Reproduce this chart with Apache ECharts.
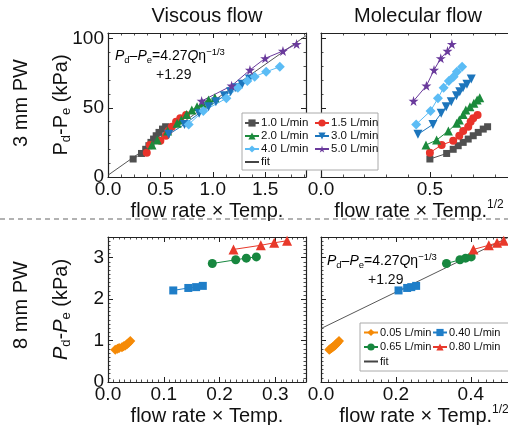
<!DOCTYPE html>
<html><head><meta charset="utf-8">
<script src="https://cdn.jsdelivr.net/npm/echarts@6/dist/echarts.min.js"></script>
<style>html,body{margin:0;padding:0;background:#fff}#c{width:508px;height:425px}</style>
</head><body><div id="c"></div>
<script>
// ---------------- data ----------------
// Top row (3 mm PW): P_d-P_e (kPa) vs flow rate x Temp. (viscous) and flow rate x Temp.^1/2 (molecular)
const topNames = ['1.0 L/min', '1.5 L/min', '2.0 L/min', '3.0 L/min', '4.0 L/min', '5.0 L/min'];
const dp_10 = [13.0, 17.0, 20.0, 22.6, 25.0, 27.4, 29.8, 32.2, 34.6, 36.3];
const visc_10 = [0.24, 0.32, 0.36, 0.39, 0.41, 0.435, 0.46, 0.487, 0.52, 0.55];
const mol_10 = [0.500, 0.577, 0.607, 0.630, 0.653, 0.676, 0.699, 0.722, 0.745, 0.765];

const dp_15 = [17.6, 23.1, 26.2, 29.8, 33.2, 36.3, 39.9, 42.4, 44.8];
const visc_15 = [0.37, 0.40, 0.50, 0.553, 0.576, 0.608, 0.65, 0.69, 0.745];
const mol_15 = [0.500, 0.554, 0.607, 0.635, 0.653, 0.676, 0.687, 0.699, 0.719];

const dp_20 = [23.1, 26.7, 33.2, 38.8, 41.2, 45.2, 48.4, 50.8, 53.2, 55.6, 57.3];
const visc_20 = [0.42, 0.47, 0.57, 0.66, 0.70, 0.75, 0.80, 0.85, 0.90, 0.96, 1.02];
const mol_20 = [0.482, 0.531, 0.585, 0.623, 0.635, 0.653, 0.665, 0.684, 0.702, 0.717, 0.729];

const dp_30 = [30.8, 38.0, 46.0, 50.8, 54.4, 58.7, 61.6, 64.5, 66.9, 70.8];
const visc_30 = [0.58, 0.73, 0.87, 0.96, 1.03, 1.11, 1.17, 1.22, 1.28, 1.35];
const mol_30 = [0.445, 0.514, 0.552, 0.575, 0.598, 0.622, 0.637, 0.652, 0.670, 0.690];

const dp_40 = [38.0, 47.7, 56.8, 64.5, 69.3, 72.4, 76.0, 79.6];
const visc_40 = [0.77, 0.91, 1.13, 1.24, 1.33, 1.40, 1.51, 1.64];
const mol_40 = [0.437, 0.503, 0.537, 0.563, 0.587, 0.609, 0.624, 0.648];

const dp_50 = [54.9, 65.9, 77.3, 85.7, 91.0, 96.0];
const visc_50 = [0.894, 1.18, 1.355, 1.50, 1.67, 1.80];
const mol_50 = [0.425, 0.484, 0.519, 0.550, 0.581, 0.601];

const fitTopX = [0, 1.9];
const fitTopY = [1.29, 102.6];

// Bottom row (8 mm PW)
const botNames = ['0.05 L/min', '0.40 L/min', '0.65 L/min', '0.80 L/min'];
const dp_005 = [0.78, 0.80, 0.82, 0.84, 0.86, 0.88, 0.91, 0.95, 0.99];
const visc_005 = [0.013, 0.017, 0.020, 0.025, 0.028, 0.031, 0.034, 0.037, 0.040];
const mol_005 = [0.022, 0.025, 0.028, 0.031, 0.034, 0.037, 0.040, 0.044, 0.048];

const dp_040 = [2.21, 2.27, 2.29, 2.32];
const visc_040 = [0.117, 0.144, 0.158, 0.170];
const mol_040 = [0.207, 0.230, 0.241, 0.254];

const dp_065 = [2.86, 2.95, 2.99, 3.02];
const visc_065 = [0.187, 0.229, 0.248, 0.266];
const mol_065 = [0.335, 0.371, 0.386, 0.401];

const dp_080 = [3.20, 3.30, 3.36, 3.41];
const visc_080 = [0.225, 0.274, 0.298, 0.321];
const mol_080 = [0.407, 0.448, 0.470, 0.488];

const fitBotX = [0, 0.55];
const fitBotY = [1.29, 3.71];

// ---------------- styling ----------------
const FONT = '"Liberation Sans", Arial, sans-serif';
const AX = '#222';
const STAR = 'path://M50,0 L61,35 L98,35 L68,57 L79,91 L50,70 L21,91 L32,57 L2,35 L39,35 Z';
const CLEAR = 'rgba(0,0,0,0)';

const topStyle = [
  {color: '#505050', symbol: 'rect', size: 7},
  {color: '#e8332a', symbol: 'circle', size: 8},
  {color: '#1b8a3c', symbol: 'triangle', size: 9},
  {color: '#1c75bc', symbol: 'triangle', size: 9, rotate: 180},
  {color: '#5bbcf5', symbol: 'diamond', size: 10},
  {color: '#6a3a9c', symbol: STAR, size: 10}
];
const botStyle = [
  {color: '#f58a07', symbol: 'diamond', size: 10},
  {color: '#1f7ec8', symbol: 'rect', size: 8},
  {color: '#17873f', symbol: 'circle', size: 9},
  {color: '#e8392b', symbol: 'triangle', size: 10}
];

function pairs(xs, ys) { return xs.map((x, i) => [x, ys[i]]); }
function mk(name, xs, ys, g, st) {
  return {
    type: 'line', name, xAxisIndex: 2 * g, yAxisIndex: 2 * g,
    data: pairs(xs, ys), symbol: st.symbol, symbolSize: st.size, symbolRotate: st.rotate || 0,
    itemStyle: {color: st.color}, lineStyle: {color: st.color, width: 1}, animation: false
  };
}
function fit(xs, ys, g) {
  return {type: 'line', name: 'fit', xAxisIndex: 2 * g, yAxisIndex: 2 * g, data: pairs(xs, ys),
    symbol: 'circle', showSymbol: false, lineStyle: {color: '#444', width: 0.9},
    itemStyle: {color: CLEAR, borderColor: CLEAR, borderWidth: 0}, animation: false, z: 1};
}

const richMain = {
  n: {fontSize: 20, fontFamily: FONT, color: '#111', lineHeight: 24},
  i: {fontSize: 20, fontFamily: FONT, color: '#111', fontStyle: 'italic', lineHeight: 24},
  sub: {fontSize: 13, fontFamily: FONT, color: '#111', lineHeight: 13, verticalAlign: 'bottom'},
  sup: {fontSize: 12, fontFamily: FONT, color: '#111', lineHeight: 12, verticalAlign: 'top'}
};
const richAnn = {
  n: {fontSize: 14, fontFamily: FONT, color: '#111', lineHeight: 18},
  i: {fontSize: 14, fontFamily: FONT, color: '#111', fontStyle: 'italic', lineHeight: 18},
  sub: {fontSize: 9.5, fontFamily: FONT, color: '#111', lineHeight: 9.5, verticalAlign: 'bottom'},
  sup: {fontSize: 9.5, fontFamily: FONT, color: '#111', lineHeight: 9.5, verticalAlign: 'top'}
};

const grids = [
  {left: 108, top: 33, width: 198, height: 144},
  {left: 321, top: 33, width: 196, height: 144},
  {left: 108, top: 237, width: 198, height: 145},
  {left: 321, top: 237, width: 206, height: 145}
].map(g => Object.assign(g, {outerBoundsMode: 'none', containLabel: false}));

const axCfg = [
  {xmax: 1.89, xint: 0.5, xminor: 4, ymax: 104, yint: 50, yminor: 5, ylab: true,
   xname: '{n|flow rate × Temp.}', yname: '{n|P}{sub|d}{n|-P}{sub|e}{n| (kPa)}'},
  {xmax: 0.9, xint: 0.5, xminor: 5, ymax: 104, yint: 50, yminor: 5, ylab: false,
   xname: '{n|flow rate × Temp.}{sup|1/2}', yname: ''},
  {xmax: 0.355, xint: 0.1, xminor: 10, ymax: 3.5, yint: 1, yminor: 10, ylab: true,
   xname: '{n|flow rate × Temp.}', yname: '{i|P}{sub|d}{n|-}{i|P}{sub|e}{n| (kPa)}'},
  {xmax: 0.55, xint: 0.2, xminor: 10, ymax: 3.5, yint: 1, yminor: 10, ylab: false,
   xname: '{n|flow rate × Temp.}{sup|1/2}', yname: ''}
];

const tick = {show: true, inside: true, length: 5, lineStyle: {color: AX, width: 1}};
const minor = n => ({show: true, splitNumber: n, length: 2.5, lineStyle: {color: AX, width: 0.8}});
const line = {show: true, onZero: false, lineStyle: {color: AX, width: 1.2}};
const labelStyle = {fontSize: 19, fontFamily: FONT, color: '#111'};

const xAxis = [], yAxis = [];
axCfg.forEach((c, g) => {
  xAxis.push({type: 'value', gridIndex: g, position: 'bottom', min: 0, max: c.xmax, interval: c.xint,
    axisLine: line, axisTick: tick, minorTick: minor(c.xminor), splitLine: {show: false},
    axisLabel: Object.assign({show: true, margin: 3, showMaxLabel: false, formatter: v => v.toFixed(1)}, labelStyle),
    name: c.xname, nameLocation: 'middle', nameGap: 22, nameMoveOverlap: false,
    nameTextStyle: {rich: richMain, fontSize: 20, fontFamily: FONT, color: '#111'}});
  xAxis.push({type: 'value', gridIndex: g, position: 'top', min: 0, max: c.xmax, interval: c.xint,
    axisLine: line, axisTick: tick, minorTick: minor(c.xminor), splitLine: {show: false},
    axisLabel: {show: false}});
  yAxis.push({type: 'value', gridIndex: g, position: 'left', min: 0, max: c.ymax, interval: c.yint,
    axisLine: line, axisTick: tick, minorTick: minor(c.yminor), splitLine: {show: false},
    axisLabel: Object.assign({show: c.ylab, margin: 4, showMaxLabel: false, formatter: v => String(Math.round(v))}, labelStyle),
    name: c.yname, nameLocation: 'middle', nameGap: 35, nameMoveOverlap: false,
    nameTextStyle: {rich: richMain, fontSize: 20, fontFamily: FONT, color: '#111'}});
  yAxis.push({type: 'value', gridIndex: g, position: 'right', min: 0, max: c.ymax, interval: c.yint,
    axisLine: line, axisTick: tick, minorTick: minor(c.yminor), splitLine: {show: false},
    axisLabel: {show: false}});
});

const series = [];
series.push(fit(fitTopX, fitTopY, 0));
const visc = [visc_10, visc_15, visc_20, visc_30, visc_40, visc_50];
const mol = [mol_10, mol_15, mol_20, mol_30, mol_40, mol_50];
const dps = [dp_10, dp_15, dp_20, dp_30, dp_40, dp_50];
topNames.forEach((n, k) => {
  series.push(mk(n, visc[k], dps[k], 0, topStyle[k]));
  series.push(mk(n, mol[k], dps[k], 1, topStyle[k]));
});
series.push(fit(fitBotX, fitBotY, 3));
const bvisc = [visc_005, visc_040, visc_065, visc_080];
const bmol = [mol_005, mol_040, mol_065, mol_080];
const bdps = [dp_005, dp_040, dp_065, dp_080];
botNames.forEach((n, k) => {
  series.push(mk(n, bvisc[k], bdps[k], 2, botStyle[k]));
  series.push(mk(n, bmol[k], bdps[k], 3, botStyle[k]));
});

const legBase = {orient: 'vertical', padding: 0, itemWidth: 14, itemHeight: 9, selectedMode: false,
  textStyle: {fontSize: 11.5, fontFamily: FONT, color: '#111', padding: [0, 0, 0, -3]}};
const legBot = Object.assign({}, legBase, {textStyle: {fontSize: 11, fontFamily: FONT, color: '#111', padding: [0, 0, 0, -3]}});
const legend = [
  Object.assign({}, legBase, {data: ['1.0 L/min', '2.0 L/min', '4.0 L/min', 'fit'], left: 244, top: 117, itemGap: 1}),
  Object.assign({}, legBase, {data: ['1.5 L/min', '3.0 L/min', '5.0 L/min'], left: 314, top: 117, itemGap: 1}),
  Object.assign({}, legBot, {data: ['0.05 L/min', '0.65 L/min', 'fit'], left: 363, top: 327, itemGap: 3.5}),
  Object.assign({}, legBot, {data: ['0.40 L/min', '0.80 L/min'], left: 432, top: 327, itemGap: 3.5})
];

function ann(x, y) {
  return [
    {type: 'text', x: x, y: y, z: 5, style: {text: '{i|P}{sub|d}{n|–}{i|P}{sub|e}{n|=4.27}{i|Q}{n|η}{sup|−1/3}', rich: richAnn, textVerticalAlign: 'middle'}},
    {type: 'text', x: x + 41, y: y + 19, z: 5, style: {text: '+1.29', font: '14px ' + FONT, fill: '#111', textVerticalAlign: 'middle'}}
  ];
}

const graphic = [
  {type: 'text', x: 207, y: 16, style: {text: 'Viscous flow', font: '20px ' + FONT, fill: '#111', textAlign: 'center', textVerticalAlign: 'middle'}},
  {type: 'text', x: 418, y: 16, style: {text: 'Molecular flow', font: '20px ' + FONT, fill: '#111', textAlign: 'center', textVerticalAlign: 'middle'}},
  {type: 'text', x: 21, y: 103, rotation: Math.PI / 2, style: {text: '3 mm PW', font: '20px ' + FONT, fill: '#111', textAlign: 'center', textVerticalAlign: 'middle'}},
  {type: 'text', x: 21, y: 305, rotation: Math.PI / 2, style: {text: '8 mm PW', font: '20px ' + FONT, fill: '#111', textAlign: 'center', textVerticalAlign: 'middle'}},
  {type: 'line', shape: {x1: 0, y1: 219, x2: 508, y2: 219}, style: {stroke: '#666', lineWidth: 1.2, lineDash: [5, 4]}},
  {type: 'rect', z: 3, shape: {x: 242, y: 113, width: 136, height: 57}, style: {fill: '#fff', stroke: '#aaa', lineWidth: 1}},
  {type: 'rect', z: 3, shape: {x: 360, y: 323, width: 160, height: 48}, style: {fill: '#fff', stroke: '#aaa', lineWidth: 1}}
].concat(ann(115, 56), ann(327, 261));

const chart = echarts.init(document.getElementById('c'), null, {renderer: 'canvas'});
chart.setOption({
  animation: false,
  backgroundColor: '#fff',
  textStyle: {fontFamily: FONT},
  grid: grids, xAxis, yAxis, series, legend, graphic
});
</script>
</body></html>
